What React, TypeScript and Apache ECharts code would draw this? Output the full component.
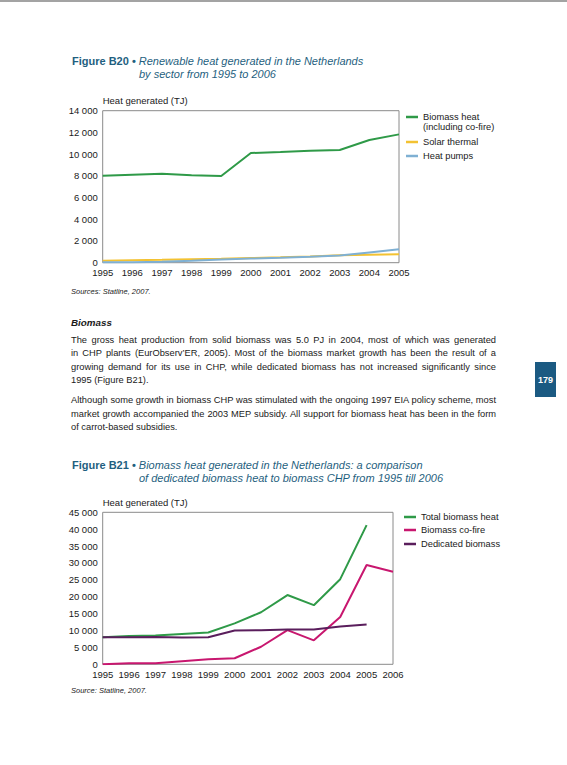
import { useEffect, useRef } from "react";
import * as echarts from "echarts";

const years1 = ["1995", "1996", "1997", "1998", "1999", "2000", "2001", "2002", "2003", "2004", "2005"];
const biomassHeat = [8000, 8100, 8200, 8050, 7980, 10100, 10200, 10320, 10380, 11300, 11820];
const solarThermal = [190, 230, 270, 320, 370, 430, 500, 580, 680, 730, 770];
const heatPumps = [30, 50, 80, 180, 290, 380, 450, 540, 660, 950, 1240];
const names1 = ["Biomass heat\n(including co-fire)", "Solar thermal", "Heat pumps"];

const years2 = ["1995", "1996", "1997", "1998", "1999", "2000", "2001", "2002", "2003", "2004", "2005", "2006"];
const totalBiomass = [8000, 8400, 8500, 9000, 9400, 12100, 15400, 20500, 17500, 25200, 41200, null];
const coFire = [0, 300, 300, 900, 1500, 1800, 5200, 10100, 7100, 14000, 29400, 27400];
const dedicated = [8000, 8000, 8100, 7900, 8000, 10000, 10100, 10300, 10300, 11200, 11800, null];
const names2 = ["Total biomass heat", "Biomass co-fire", "Dedicated biomass"];

const colors1 = ["#2f9a48", "#f3c232", "#7fb0d3"];
const colors2 = ["#2f9a48", "#c8176f", "#5a1e5c"];

const FONT = "'Liberation Sans', Arial, sans-serif";
const TEAL = "#1f5f80";
const TEXT = "#1a1a1a";

const fmt = (v: number) => String(v).replace(/\B(?=(\d{3})+(?!\d))/g, " ");

const para1 = [
  "The gross heat production from solid biomass was 5.0 PJ in 2004, most of which was generated",
  "in CHP plants (EurObserv\u2019ER, 2005). Most of the biomass market growth has been the result of a",
  "growing demand for its use in CHP, while dedicated biomass has not increased significantly since",
  "1995 (Figure B21).",
];
const para2 = [
  "Although some growth in biomass CHP was stimulated with the ongoing 1997 EIA policy scheme, most",
  "market growth accompanied the 2003 MEP subsidy. All support for biomass heat has been in the form",
  "of carrot-based subsidies.",
];

function legend(names: string[], colors: string[], x: number, ys: number[]) {
  const out: any[] = [];
  names.forEach((n, i) => {
    out.push({
      type: "line",
      shape: { x1: x, y1: ys[i], x2: x + 12, y2: ys[i] },
      style: { stroke: colors[i], lineWidth: 2.5 },
    });
    out.push({
      type: "text",
      x: x + 17,
      y: ys[i] - 5,
      style: { text: n, font: `9.3px ${FONT}`, fill: TEXT, lineHeight: 10 },
    });
  });
  return out;
}

function title(label: string, l1: string, l2: string, y: number) {
  return [
    {
      type: "text",
      x: 72,
      y: y - 7,
      style: {
        text: `{b|${label} \u2022 }{i|${l1}}`,
        rich: {
          b: { font: `bold 11px ${FONT}`, fill: TEAL },
          i: { font: `italic 11px ${FONT}`, fill: TEAL },
        },
      },
    },
    {
      type: "text",
      x: 139,
      y: y + 6,
      style: { text: l2, font: `italic 11px ${FONT}`, fill: TEAL },
    },
  ];
}

function axes(data: string[], max: number, interval: number, gridIndex: number) {
  return {
    x: {
      type: "category",
      gridIndex,
      data,
      boundaryGap: false,
      axisLine: { show: false },
      axisTick: { show: false },
      axisLabel: { fontSize: 9.5, fontFamily: FONT, color: TEXT, margin: 5, interval: 0 },
    },
    y: {
      type: "value",
      gridIndex,
      min: 0,
      max,
      interval,
      name: "Heat generated (TJ)",
      nameLocation: "end",
      nameGap: 4,
      nameTextStyle: { align: "left", fontSize: 9.5, fontFamily: FONT, color: TEXT },
      splitLine: { show: false },
      axisLine: { show: false },
      axisTick: { show: false },
      axisLabel: { fontSize: 9.5, fontFamily: FONT, color: TEXT, margin: 5, formatter: fmt },
    },
  };
}

export default function App() {
  const ref = useRef<HTMLDivElement | null>(null);

  useEffect(() => {
    if (!ref.current) return;
    const chart = echarts.init(ref.current, null, { renderer: "svg" });
    const a1 = axes(years1, 14000, 2000, 0);
    const a2 = axes(years2, 45000, 5000, 1);
    const line = (name: string, data: any[], color: string, idx: number) => ({
      name,
      type: "line",
      xAxisIndex: idx,
      yAxisIndex: idx,
      data,
      symbol: "none",
      lineStyle: { width: 2, color },
      itemStyle: { color },
    });
    chart.setOption({
      animation: false,
      grid: [
        { left: 102.7, top: 110.7, width: 296.3, height: 152, show: true, borderColor: "#8a8a8a", borderWidth: 1 },
        { left: 102.7, top: 512.3, width: 290.3, height: 152, show: true, borderColor: "#8a8a8a", borderWidth: 1 },
      ],
      xAxis: [a1.x, a2.x],
      yAxis: [a1.y, a2.y],
      series: [
        line(names1[1], solarThermal, colors1[1], 0),
        line(names1[2], heatPumps, colors1[2], 0),
        line(names1[0], biomassHeat, colors1[0], 0),
        line(names2[0], totalBiomass, colors2[0], 1),
        line(names2[1], coFire, colors2[1], 1),
        line(names2[2], dedicated, colors2[2], 1),
      ],
      graphic: [
        ...title("Figure B20", "Renewable heat generated in the Netherlands", "by sector from 1995 to 2006", 62),
        ...title(
          "Figure B21",
          "Biomass heat generated in the Netherlands: a comparison",
          "of dedicated biomass heat to biomass CHP from 1995 till 2006",
          466
        ),
        ...legend(names1, colors1, 406, [117, 142, 156]),
        ...legend(names2, colors2, 404, [517, 530, 544]),
        {
          type: "text",
          x: 71,
          y: 287,
          style: { text: "Sources: Statline, 2007.", font: `italic 7.5px ${FONT}`, fill: TEXT },
        },
        {
          type: "text",
          x: 71,
          y: 686,
          style: { text: "Source: Statline, 2007.", font: `italic 7.5px ${FONT}`, fill: TEXT },
        },
      ],
    });
    return () => chart.dispose();
  }, []);

  const lineStyle = (justify: boolean, top: number): React.CSSProperties => ({
    position: "absolute",
    left: 71,
    top,
    width: 425,
    fontSize: 9.3,
    lineHeight: "12px",
    textAlign: justify ? "justify" : "left",
    textAlignLast: justify ? "justify" : "left",
    color: TEXT,
  });

  return (
    <div
      style={{
        position: "absolute",
        left: 0,
        top: 0,
        width: 567,
        height: 765,
        background: "#fff",
        fontFamily: FONT,
        overflow: "hidden",
      }}
    >
      <div style={{ position: "absolute", left: 0, top: 0, width: 567, height: 2, background: "#a3a3a3" }} />
      <div ref={ref} style={{ position: "absolute", left: 0, top: 0, width: 567, height: 765 }} />
      <div
        style={{
          position: "absolute",
          left: 71,
          top: 317,
          fontSize: 9.8,
          fontWeight: "bold",
          fontStyle: "italic",
          color: TEXT,
        }}
      >
        Biomass
      </div>
      {para1.map((t, i) => (
        <div key={"a" + i} style={lineStyle(i < para1.length - 1, 334 + i * 13.3)}>
          {t}
        </div>
      ))}
      {para2.map((t, i) => (
        <div key={"b" + i} style={lineStyle(i < para2.length - 1, 394 + i * 13.5)}>
          {t}
        </div>
      ))}
      <div
        style={{
          position: "absolute",
          left: 535,
          top: 362,
          width: 21,
          height: 35,
          background: "#1b5a82",
          color: "#fff",
          fontSize: 9,
          fontWeight: "bold",
          display: "flex",
          alignItems: "center",
          justifyContent: "center",
        }}
      >
        179
      </div>
    </div>
  );
}
